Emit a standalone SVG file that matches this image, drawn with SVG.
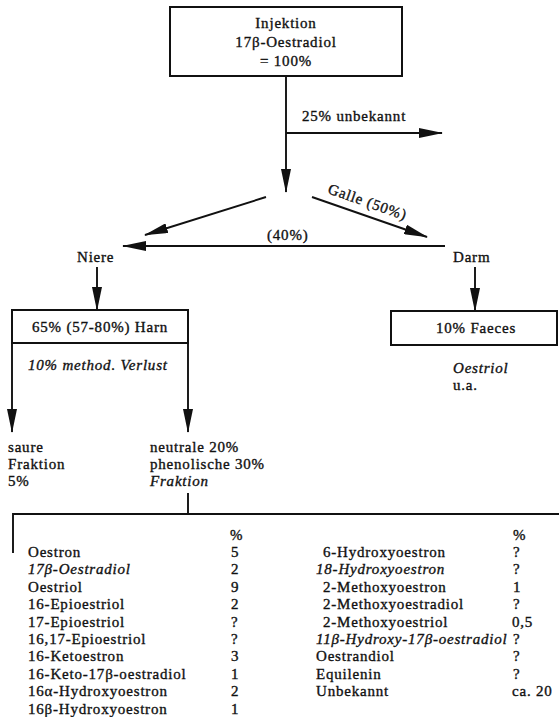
<svg xmlns="http://www.w3.org/2000/svg" width="559" height="717" viewBox="0 0 559 717">
<defs>
<marker id="ah" viewBox="0 0 24 10" refX="23" refY="5" markerWidth="24" markerHeight="10" markerUnits="userSpaceOnUse" orient="auto">
<path d="M0,0 L24,5 L0,10 z" fill="#111"/>
</marker>
<style>
text{font-family:"Liberation Serif","Times New Roman",serif;font-size:15px;letter-spacing:0.8px;fill:#111;stroke:#111;stroke-width:0.35px;}
.it{font-style:italic;}
.c{text-anchor:middle;}
.box{fill:#fff;stroke:#111;stroke-width:2;}
.ln{stroke:#111;stroke-width:1.9;fill:none;}
.arr{stroke:#111;stroke-width:1.9;fill:none;marker-end:url(#ah);}
</style>
</defs>
<rect width="559" height="717" fill="#fff"/>

<g id="connectors">
<line class="arr" x1="286" y1="76" x2="286" y2="192"/>
<line class="arr" x1="286" y1="133" x2="442" y2="133"/>
<line class="arr" x1="266" y1="197" x2="145" y2="235"/>
<line class="arr" x1="312" y1="197" x2="427" y2="237"/>
<line class="arr" x1="445" y1="246" x2="123" y2="246"/>
<line class="arr" x1="97" y1="267" x2="97" y2="310"/>
<line class="arr" x1="475" y1="267" x2="475" y2="311"/>
<line class="arr" x1="12" y1="343" x2="12" y2="432"/>
<line class="arr" x1="188" y1="343" x2="188" y2="432"/>
<line class="ln" x1="188" y1="493" x2="188" y2="514"/>
<polyline class="ln" points="13,553 13,514 559,514"/>
<text x="302" y="121">25% unbekannt</text>
<text transform="translate(327,193) rotate(19.3)">Galle (50%)</text>
<text x="267" y="240">(40%)</text>
</g>

<g id="injektion">
<rect class="box" x="170" y="7" width="232" height="69"/>
<text class="c" x="286" y="28">Injektion</text>
<text class="c" x="286" y="47">17β-Oestradiol</text>
<text class="c" x="286" y="66">= 100%</text>
</g>

<g id="niere">
<text x="77" y="262">Niere</text>
</g>

<g id="darm">
<text x="453" y="262">Darm</text>
</g>

<g id="harn">
<rect class="box" x="12" y="310" width="176" height="33"/>
<text class="c" x="100" y="332">65% (57-80%) Harn</text>
<text class="it" x="28" y="370">10% method. Verlust</text>
</g>

<g id="faeces">
<rect class="box" x="391" y="311" width="166" height="34"/>
<text class="c" x="476" y="333">10% Faeces</text>
<text class="it" x="453" y="373">Oestriol</text>
<text x="453" y="390">u.a.</text>
</g>

<g id="saure">
<text x="8" y="452">saure</text>
<text x="8" y="469">Fraktion</text>
<text x="8" y="486">5%</text>
</g>

<g id="neutrale">
<text x="150" y="452">neutrale 20%</text>
<text x="150" y="469">phenolische 30%</text>
<text class="it" x="150" y="486">Fraktion</text>
</g>

<g id="tabelle">
<text x="230" y="540">%</text>
<text x="513" y="540">%</text>
<text x="28" y="557">Oestron</text><text x="231" y="557">5</text>
<text class="it" x="28" y="574.4">17β-Oestradiol</text><text x="231" y="574.4">2</text>
<text x="28" y="591.8">Oestriol</text><text x="231" y="591.8">9</text>
<text x="28" y="609.2">16-Epioestriol</text><text x="231" y="609.2">2</text>
<text x="28" y="626.6">17-Epioestriol</text><text x="231" y="626.6">?</text>
<text x="28" y="644">16,17-Epioestriol</text><text x="231" y="644">?</text>
<text x="28" y="661.4">16-Ketoestron</text><text x="231" y="661.4">3</text>
<text x="28" y="678.8">16-Keto-17β-oestradiol</text><text x="231" y="678.8">1</text>
<text x="28" y="696.2">16α-Hydroxyoestron</text><text x="231" y="696.2">2</text>
<text x="28" y="713.6">16β-Hydroxyoestron</text><text x="231" y="713.6">1</text>

<text x="323" y="557">6-Hydroxyoestron</text><text x="513" y="557">?</text>
<text class="it" x="316" y="574.4">18-Hydroxyoestron</text><text x="513" y="574.4">?</text>
<text x="323" y="591.8">2-Methoxyoestron</text><text x="513" y="591.8">1</text>
<text x="323" y="609.2">2-Methoxyoestradiol</text><text x="513" y="609.2">?</text>
<text x="323" y="626.6">2-Methoxyoestriol</text><text x="512" y="626.6">0,5</text>
<text class="it" x="316" y="644">11β-Hydroxy-17β-oestradiol</text><text x="513" y="644">?</text>
<text x="316" y="661.4">Oestrandiol</text><text x="513" y="661.4">?</text>
<text x="316" y="678.8">Equilenin</text><text x="513" y="678.8">?</text>
<text x="316" y="696.2">Unbekannt</text><text x="512" y="696.2">ca. 20</text>
</g>
</svg>
